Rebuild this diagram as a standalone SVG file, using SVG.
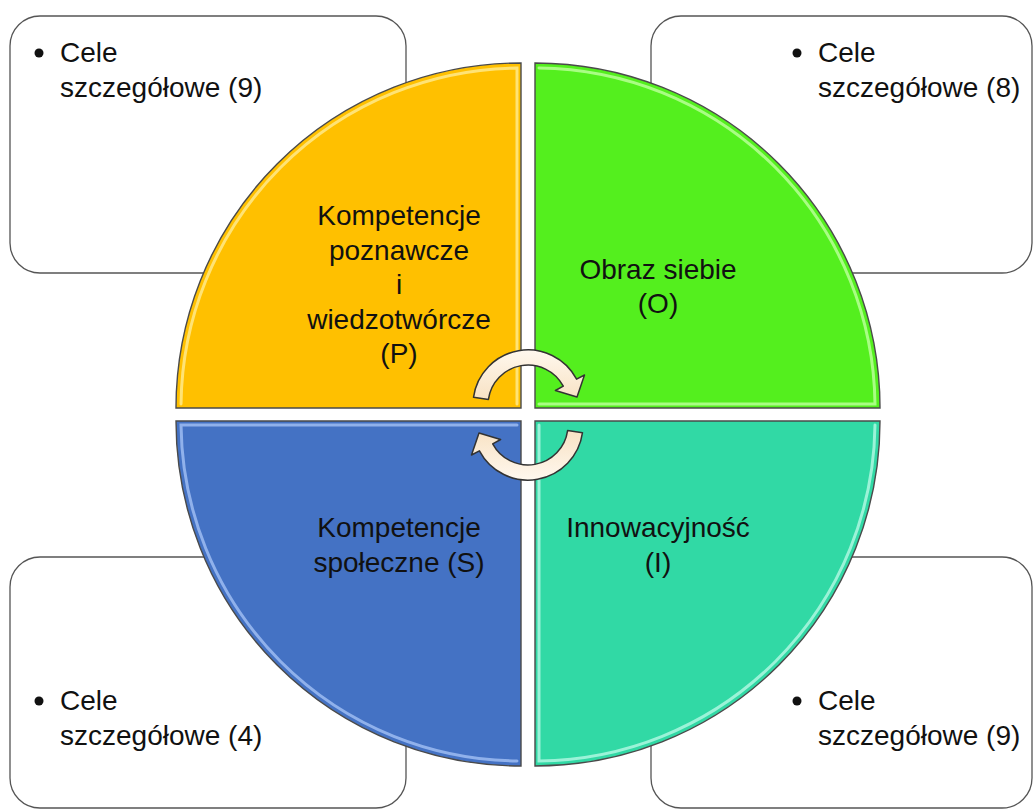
<svg xmlns="http://www.w3.org/2000/svg" width="1033" height="809" viewBox="0 0 1033 809">
<defs>
<style>
.box{fill:#fff;stroke:#555;stroke-width:1.3}
.t{font-family:"Liberation Sans",Arial,sans-serif;font-size:28px;fill:#111}
.c{text-anchor:middle}
.q{stroke:#4a4a4a;stroke-width:1.4}
.hl{fill:none;stroke-width:3;stroke-linecap:round;opacity:0.85}
.arrow{fill:url(#cream);stroke:#333;stroke-width:1.5;stroke-linejoin:round}
</style>
<linearGradient id="cream" x1="0" y1="0" x2="0" y2="1">
<stop offset="0" stop-color="#fff8ee"/>
<stop offset="1" stop-color="#f8e2c4"/>
</linearGradient>
</defs>
<g id="box-tl">
<rect class="box" x="10" y="16" width="396" height="257" rx="30"/>
<circle cx="39" cy="53" r="4.5" fill="#111"/>
<text class="t" x="60" y="62">Cele</text>
<text class="t" x="60" y="97">szczegółowe (9)</text>
</g>
<g id="box-tr">
<rect class="box" x="651" y="16" width="381" height="257" rx="30"/>
<circle cx="797" cy="53" r="4.5" fill="#111"/>
<text class="t" x="818" y="62">Cele</text>
<text class="t" x="818" y="97">szczegółowe (8)</text>
</g>
<g id="box-bl">
<rect class="box" x="10" y="557" width="396" height="251" rx="30"/>
<circle cx="39" cy="701" r="4.5" fill="#111"/>
<text class="t" x="60" y="710">Cele</text>
<text class="t" x="60" y="745">szczegółowe (4)</text>
</g>
<g id="box-br">
<rect class="box" x="651" y="557" width="381" height="251" rx="30"/>
<circle cx="797" cy="701" r="4.5" fill="#111"/>
<text class="t" x="818" y="710">Cele</text>
<text class="t" x="818" y="745">szczegółowe (9)</text>
</g>
<g id="quad-p">
<path class="q" fill="#ffc000" d="M 521 408 L 176 408 A 345 345 0 0 1 521 63 Z"/>
<path class="hl" stroke="#ffe98a" d="M 181 404 A 340 340 0 0 1 517 68 L 517 404"/>
<text class="t c" x="399" y="225">Kompetencje</text>
<text class="t c" x="399" y="259.5">poznawcze</text>
<text class="t c" x="399" y="294">i</text>
<text class="t c" x="399" y="328.5">wiedzotwórcze</text>
<text class="t c" x="399" y="363">(P)</text>
</g>
<g id="quad-o">
<path class="q" fill="#54ef1e" d="M 535 408 L 535 63 A 345 345 0 0 1 880 408 Z"/>
<path class="hl" stroke="#b8ff96" d="M 539 68 A 340 340 0 0 1 875 404 L 539 404"/>
<text class="t c" x="658" y="279">Obraz siebie</text>
<text class="t c" x="658" y="313">(O)</text>
</g>
<g id="quad-s">
<path class="q" fill="#4472c4" d="M 521 421 L 521 766 A 345 345 0 0 1 176 421 Z"/>
<path class="hl" stroke="#9ebcf2" d="M 517 425 L 181 425 A 340 340 0 0 0 517 761"/>
<text class="t c" x="399" y="537">Kompetencje</text>
<text class="t c" x="399" y="572">społeczne (S)</text>
</g>
<g id="quad-i">
<path class="q" fill="#31d9a5" d="M 535 421 L 880 421 A 345 345 0 0 1 535 766 Z"/>
<path class="hl" stroke="#aef7e0" d="M 539 425 L 539 761 A 340 340 0 0 0 875 425"/>
<text class="t c" x="658" y="537">Innowacyjność</text>
<text class="t c" x="658" y="572">(I)</text>
</g>
<g id="connectors">
<path class="arrow" d="M 473.5 397.3 A 55 55 0 0 1 576.6 379.2 L 584.5 375 L 577 397 L 555.4 390.5 L 563.3 386.2 A 40 40 0 0 0 488.4 399.4 Z"/>
<path class="arrow" transform="rotate(180 528 415)" d="M 473.5 397.3 A 55 55 0 0 1 576.6 379.2 L 584.5 375 L 577 397 L 555.4 390.5 L 563.3 386.2 A 40 40 0 0 0 488.4 399.4 Z"/>
</g>
</svg>
